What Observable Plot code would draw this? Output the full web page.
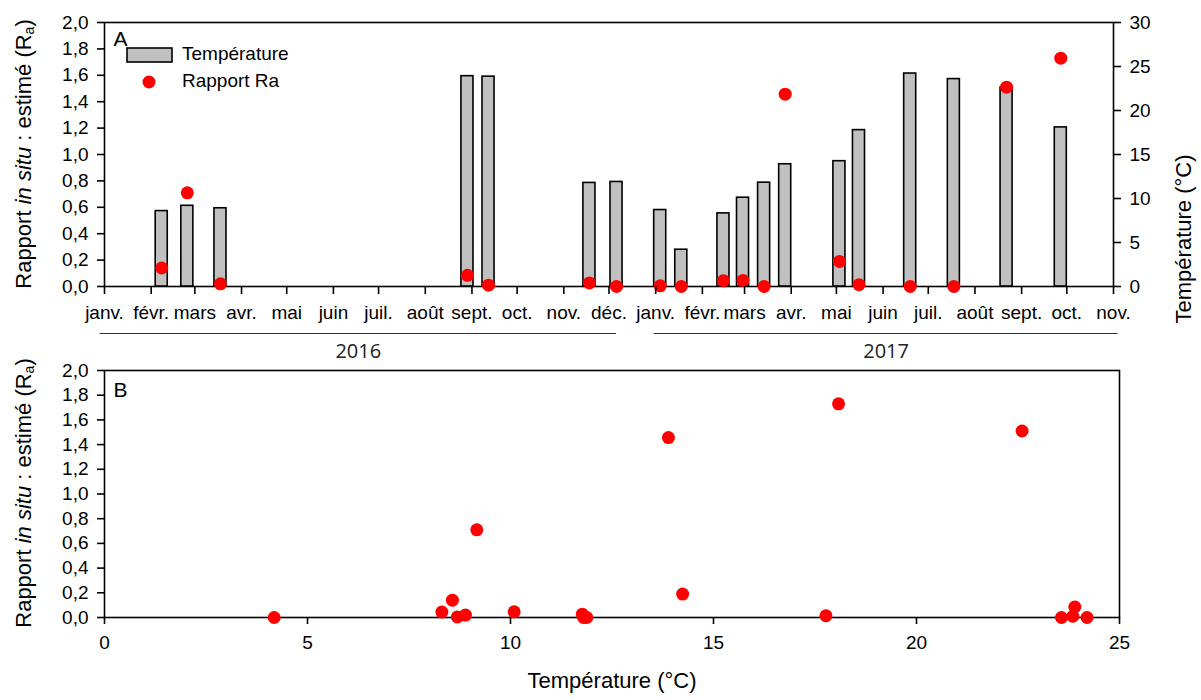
<!DOCTYPE html>
<html><head><meta charset="utf-8">
<script src="https://cdn.jsdelivr.net/npm/d3@7"></script>
<script src="https://cdn.jsdelivr.net/npm/@observablehq/plot@0.6"></script>
<style>
body{margin:0;background:#fff;font-family:"Liberation Sans",Arial,sans-serif;}
#wrap{position:relative;width:1201px;height:700px;overflow:hidden;}
#wrap svg{position:absolute;left:0;overflow:visible;}
</style></head><body><div id="wrap"></div>
<script>
// ---- data ----
const sampleDates = ["2016-02-08","2016-02-25","2016-03-18","2016-08-29","2016-09-12","2016-11-18","2016-12-06",
  "2017-01-04","2017-01-18","2017-02-15","2017-02-28","2017-03-14","2017-03-28","2017-05-03","2017-05-16",
  "2017-06-19","2017-07-18","2017-08-22","2017-09-27"];
const temperature = [8.57, 9.17, 8.89, 23.9, 23.85, 11.77, 11.88, 8.69, 4.18, 8.31, 10.09, 11.8, 13.89, 14.24, 17.77, 24.2, 23.57, 22.6, 18.08];
const ratioRa = [0.14, 0.71, 0.02, 0.085, 0.01, 0.027, 0.0, 0.005, 0.0, 0.044, 0.046, 0.0, 1.457, 0.19, 0.014, 0.0, 0.0, 1.51, 1.73];
const frMonths = ["janv.","févr.","mars","avr.","mai","juin","juil.","août","sept.","oct.","nov.","déc."];
const raTicks = [0,0.2,0.4,0.6,0.8,1.0,1.2,1.4,1.6,1.8,2.0];
const tempTicks = [0,5,10,15,20,25,30];
const yearLabels = ["2016","2017"];
const yearStart = ["2015-12-29","2016-12-31"];
const yearEnd = ["2016-12-06","2017-11-04"];
const timeDomain = ["2016-01-01","2017-11-01"];

const data = sampleDates.map((d,i)=>({date:new Date(d), temp:temperature[i], ra:ratioRa[i]}));
const years = yearLabels.map((y,i)=>({label:y, start:new Date(yearStart[i]), end:new Date(yearEnd[i])}));
const k = 2/30; // temperature -> left-axis units
const fmt = d => d.toFixed(1).replace(".", ",");
const monthTicks = d3.utcMonth.range(new Date(timeDomain[0]), d3.utcDay.offset(new Date(timeDomain[1]),1));
const RED = "#ff0000";
const FONT = "Liberation Sans, Arial, sans-serif";

const topPlot = Plot.plot({
  width: 1201, height: 360,
  marginTop: 22, marginBottom: 74, marginLeft: 104, marginRight: 88,
  x: {type:"utc", domain: timeDomain.map(d=>new Date(d))},
  y: {domain:[0,2]},
  style: {fontFamily: FONT, fontSize: "19px", color:"#000", background:"transparent", overflow:"visible"},
  marks: [
    Plot.frame({stroke:"#000", strokeWidth:1.6}),
    Plot.rect(data, {x1: d=>d3.utcDay.offset(d.date,-4), x2: d=>d3.utcDay.offset(d.date,4), y1: d=>0, y2: d=>d.temp*k,
      fill:"#c0c0c0", stroke:"#000", strokeWidth:1.6}),
    Plot.dot(data, {x:"date", y:"ra", r:6.5, fill:RED}),
    Plot.axisY(raTicks, {anchor:"left", tickFormat: fmt, tickSize:7, tickPadding:9, label:null, strokeWidth:1.6}),
    Plot.axisY(tempTicks.map(t=>t*k), {anchor:"right", tickFormat: d=>String(Math.round(d/k)), tickSize:7, tickPadding:9, label:null, strokeWidth:1.6}),
    Plot.axisX(monthTicks, {anchor:"bottom", tickFormat: d=>frMonths[d.getUTCMonth()], tickSize:8, tickPadding:11, label:null, strokeWidth:1.6}),
    Plot.ruleY(years, {x1:"start", x2:"end", y: d=>0, dy:47, stroke:"#333", strokeWidth:1.2}),
    Plot.text(years, {x: d=>new Date((+d.start + +d.end)/2), y: d=>0, dy:65, text:"label", fontSize:20, fontFamily:"Open Sans", fill:"#222"}),
    Plot.text(["A"], {frameAnchor:"top-left", dx:9, dy:17, text: d=>d, fontSize:21, lineAnchor:"middle"}),
    Plot.text(["Température (°C)"], {frameAnchor:"right", dx:70, rotate:-90, text:d=>d, fontSize:22})
  ]
});
topPlot.style.top = "0px";
document.getElementById("wrap").appendChild(topPlot);

const botPlot = Plot.plot({
  width: 1201, height: 340,
  marginTop: 10, marginBottom: 83, marginLeft: 104, marginRight: 82,
  x: {domain:[0,25]},
  y: {domain:[0,2]},
  style: {fontFamily: FONT, fontSize: "19px", color:"#000", background:"transparent", overflow:"visible"},
  marks: [
    Plot.frame({stroke:"#000", strokeWidth:1.6}),
    Plot.dot(data, {x:"temp", y:"ra", r:6.5, fill:RED}),
    Plot.axisY(raTicks, {anchor:"left", tickFormat: fmt, tickSize:7, tickPadding:9, label:null, strokeWidth:1.6}),
    Plot.axisX(tempTicks.filter(t=>t<=25), {anchor:"bottom", tickSize:7, tickPadding:11, label:null, strokeWidth:1.6}),
    Plot.text(["B"], {frameAnchor:"top-left", dx:9, dy:20, text:d=>d, fontSize:21, lineAnchor:"middle"}),
    Plot.text(["Température (°C)"], {frameAnchor:"bottom", dy:70, text:d=>d, fontSize:22})
  ]
});
botPlot.style.top = "360px";
document.getElementById("wrap").appendChild(botPlot);

// left axis titles with italic and subscript
function leftTitle(svg, cx, cy) {
  const t = d3.select(svg).append("text")
    .attr("transform", `translate(${cx},${cy}) rotate(-90)`)
    .attr("text-anchor","middle").attr("dominant-baseline","middle")
    .attr("font-family", FONT).attr("font-size", 22).attr("fill","#000");
  t.append("tspan").text("Rapport ");
  t.append("tspan").attr("font-style","italic").text("in situ");
  t.append("tspan").text(" : estimé (R");
  t.append("tspan").attr("font-size",14).attr("dy",5).text("a");
  t.append("tspan").attr("dy",-5).text(")");
}
leftTitle(topPlot, 25, 154);
leftTitle(botPlot, 25, 133);

// legend (panel A)
const lg = d3.select(topPlot).append("g").attr("font-family", FONT).attr("font-size", 19).attr("text-anchor","start");
lg.append("rect").attr("x",127).attr("y",48).attr("width",45).attr("height",14)
  .attr("fill","#c0c0c0").attr("stroke","#000").attr("stroke-width",1.6);
lg.append("circle").attr("cx",149).attr("cy",82).attr("r",6.5).attr("fill",RED);
lg.append("text").attr("x",182).attr("y",55).attr("dominant-baseline","middle").attr("text-anchor","start").text("Température");
lg.append("text").attr("x",182).attr("y",82).attr("dominant-baseline","middle").attr("text-anchor","start").text("Rapport Ra");
</script></body></html>
